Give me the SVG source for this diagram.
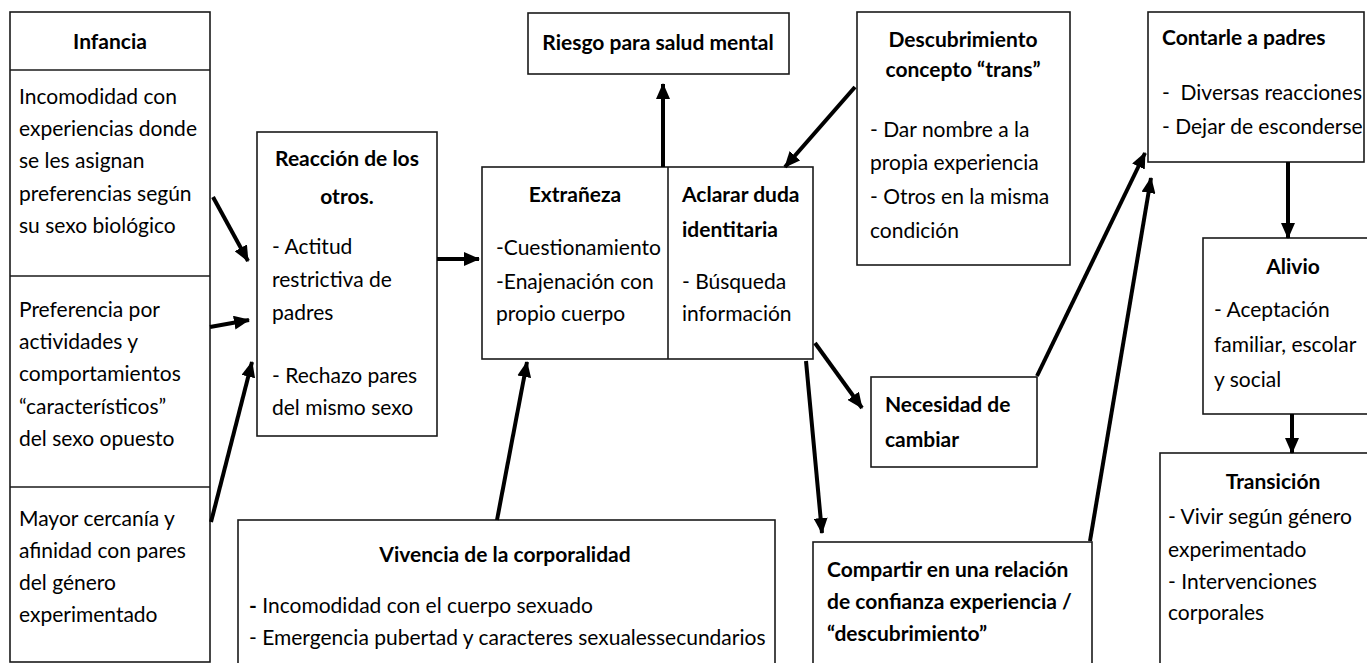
<svg xmlns="http://www.w3.org/2000/svg" width="1367" height="663" viewBox="0 0 1367 663">
<style>
  .box{fill:#fff;stroke:#1a1a1a;stroke-width:1.6}
  text{font-family:Lato,"Open Sans","Liberation Sans",sans-serif;font-size:21px;fill:#000}
  .b{font-weight:bold}
  .c{text-anchor:middle}
  .arr{stroke:#000;stroke-width:4;fill:none;marker-end:url(#ah)}
</style>
<defs>
  <marker id="ah" markerUnits="userSpaceOnUse" markerWidth="16" markerHeight="14" refX="15" refY="7" orient="auto">
    <path d="M0,0 L16,7 L0,14 Z" fill="#000"/>
  </marker>
</defs>
<rect width="1367" height="663" fill="#fff"/>

<g id="infancia">
  <rect class="box" x="10" y="12" width="200" height="650"/>
  <line class="box" x1="10" y1="70" x2="210" y2="70"/>
  <line class="box" x1="10" y1="276" x2="210" y2="276"/>
  <line class="box" x1="10" y1="487" x2="210" y2="487"/>
  <text class="b c" x="110" y="49">Infancia</text>
  <text x="19" y="104">Incomodidad con</text>
  <text x="19" y="136">experiencias donde</text>
  <text x="19" y="168">se les asignan</text>
  <text x="19" y="201">preferencias según</text>
  <text x="19" y="233">su sexo biológico</text>
  <text x="19" y="317">Preferencia por</text>
  <text x="19" y="349">actividades y</text>
  <text x="19" y="381">comportamientos</text>
  <text x="19" y="414">“característicos”</text>
  <text x="19" y="446">del sexo opuesto</text>
  <text x="19" y="526">Mayor cercanía y</text>
  <text x="19" y="558">afinidad con pares</text>
  <text x="19" y="590">del género</text>
  <text x="19" y="622">experimentado</text>
</g>

<g id="reaccion">
  <rect class="box" x="257" y="132" width="180" height="304"/>
  <text class="b c" x="347" y="166">Reacción de los</text>
  <text class="b c" x="347" y="204">otros.</text>
  <text x="272" y="254">- Actitud</text>
  <text x="272" y="287">restrictiva de</text>
  <text x="272" y="320">padres</text>
  <text x="272" y="383">- Rechazo pares</text>
  <text x="272" y="415">del mismo sexo</text>
</g>

<g id="riesgo">
  <rect class="box" x="528" y="13" width="261" height="61"/>
  <text class="b c" x="658" y="50">Riesgo para salud mental</text>
</g>

<g id="extraneza">
  <rect class="box" x="482" y="167" width="331" height="192"/>
  <line class="box" x1="668" y1="167" x2="668" y2="359"/>
  <text class="b c" x="575" y="202">Extrañeza</text>
  <text x="496" y="255">-Cuestionamiento</text>
  <text x="496" y="289">-Enajenación con</text>
  <text x="496" y="321">propio cuerpo</text>
  <text class="b" x="682" y="202">Aclarar duda</text>
  <text class="b" x="682" y="237">identitaria</text>
  <text x="682" y="289">- Búsqueda</text>
  <text x="682" y="321">información</text>
</g>

<g id="descubrimiento">
  <rect class="box" x="857" y="12" width="213" height="253"/>
  <text class="b c" x="963" y="47">Descubrimiento</text>
  <text class="b c" x="963" y="77">concepto “trans”</text>
  <text x="870" y="137">- Dar nombre a la</text>
  <text x="870" y="170">propia experiencia</text>
  <text x="870" y="204">- Otros en la misma</text>
  <text x="870" y="238">condición</text>
</g>

<g id="necesidad">
  <rect class="box" x="871" y="377" width="166" height="90"/>
  <text class="b" x="885" y="412">Necesidad de</text>
  <text class="b" x="885" y="447">cambiar</text>
</g>

<g id="compartir">
  <rect class="box" x="813" y="542" width="279" height="130"/>
  <text class="b" x="827" y="577">Compartir en una relación</text>
  <text class="b" x="827" y="609">de confianza experiencia /</text>
  <text class="b" x="827" y="641">“descubrimiento”</text>
</g>

<g id="vivencia">
  <rect class="box" x="238" y="520" width="537" height="150"/>
  <text class="b c" x="505" y="562">Vivencia de la corporalidad</text>
  <text x="249" y="613"><tspan class="b">-</tspan> Incomodidad con el cuerpo sexuado</text>
  <text x="249" y="645">- Emergencia pubertad y caracteres sexualessecundarios</text>
</g>

<g id="contarle">
  <rect class="box" x="1148" y="12" width="216" height="150"/>
  <text class="b" x="1162" y="45">Contarle a padres</text>
  <text x="1162" y="100" xml:space="preserve">-  Diversas reacciones</text>
  <text x="1162" y="134">- Dejar de esconderse</text>
</g>

<g id="alivio">
  <rect class="box" x="1203" y="238" width="170" height="176"/>
  <text class="b c" x="1293" y="274">Alivio</text>
  <text x="1214" y="317">- Aceptación</text>
  <text x="1214" y="352">familiar, escolar</text>
  <text x="1214" y="387">y social</text>
</g>

<g id="transicion">
  <rect class="box" x="1160" y="453" width="220" height="220"/>
  <text class="b c" x="1273" y="489">Transición</text>
  <text x="1168" y="524">- Vivir según género</text>
  <text x="1168" y="557">experimentado</text>
  <text x="1168" y="589">- Intervenciones</text>
  <text x="1168" y="620">corporales</text>
</g>

<g id="connectors">
  <line class="arr" x1="213" y1="197" x2="248" y2="261"/>
  <line class="arr" x1="210" y1="327" x2="249" y2="320"/>
  <line class="arr" x1="211" y1="522" x2="252" y2="362"/>
  <line class="arr" x1="437" y1="259" x2="479" y2="259"/>
  <line class="arr" x1="663" y1="167" x2="663" y2="84"/>
  <line class="arr" x1="855" y1="87" x2="785" y2="167"/>
  <line class="arr" x1="497" y1="520" x2="527" y2="362"/>
  <line class="arr" x1="815" y1="343" x2="862" y2="408"/>
  <line class="arr" x1="806" y1="361" x2="822" y2="533"/>
  <line class="arr" x1="1037" y1="376" x2="1145" y2="153"/>
  <line class="arr" x1="1090" y1="541" x2="1151" y2="178"/>
  <line class="arr" x1="1288" y1="162" x2="1288" y2="238"/>
  <line class="arr" x1="1292" y1="414" x2="1292" y2="453"/>
</g>
</svg>
